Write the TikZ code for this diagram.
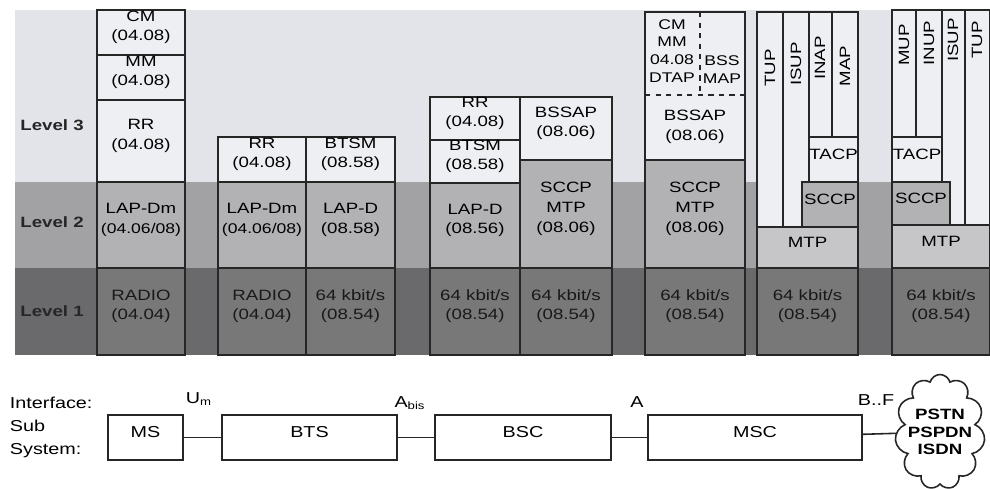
\documentclass[tikz,border=0pt]{standalone}
\usepackage{fontspec}
\setmainfont{Liberation Sans}[FakeStretch=1.25]
\usetikzlibrary{fit,shapes.symbols}

\definecolor{bandtop}{HTML}{E2E4EA}
\definecolor{bandmid}{HTML}{A2A2A4}
\definecolor{bandlow}{HTML}{6A6A6C}
\definecolor{boxtop}{HTML}{EEEFF3}
\definecolor{boxmid}{HTML}{B2B2B4}
\definecolor{boxlow}{HTML}{787879}
\definecolor{boxmtp}{HTML}{C6C6C8}

\begin{document}
\begin{tikzpicture}[x=0.02cm, y=-0.02cm,
	every node/.style={font=\fontsize{8.5}{11.3}\selectfont, align=center, inner sep=0pt, outer sep=0pt},
	lay/.style={draw=black!85, line width=0.9pt},
	l3/.style={lay, fill=boxtop},
	l2/.style={lay, fill=boxmid},
	l1/.style={lay, fill=boxlow, text=black!90},
	lmtp/.style={lay, fill=boxmtp},
	levtxt/.style={font=\fontsize{8.5}{11}\selectfont\bfseries, text=black!85},
	sub/.style={draw=black!85, line width=0.9pt, fill=white, font=\fontsize{9}{11}\selectfont},
	link/.style={draw=black!85, line width=0.9pt}]
	\useasboundingbox (0,0) rectangle (990,488);
	\fill[white] (0,0) rectangle (990,488);
	
	% level bands
	\fill[bandtop] (15,10) rectangle (990,182);
	\fill[bandmid] (15,182) rectangle (990,268);
	\fill[bandlow] (15,268) rectangle (990,355);
	\node[levtxt] (lev3) at (52,125) {Level 3};
	\node[levtxt] (lev2) at (52,222) {Level 2};
	\node[levtxt] (lev1) at (52,311) {Level 1};
	
	% MS
	\node[l3, fit={(97,10) (185,55)}] (mscm) {CM\\(04.08)};
	\node[l3, fit={(97,55) (185,100)}] (msmm) {MM\\(04.08)};
	\node[l3, fit={(97,100) (185,182)}] (msrr) {RR\\(04.08)};
	\node[l2, fit={(97,182) (185,268)}] (mslapdm) {LAP-Dm\\{\fontsize{8}{10}\selectfont(04.06/08)}};
	\node[l1, fit={(97,268) (185,355)}] (msradio) {RADIO\\(04.04)};
	
	% BTS
	\node[l3, fit={(218,137) (306,182)}] (btsrr) {RR\\(04.08)};
	\node[l3, fit={(306,137) (395,182)}] (btsbtsm) {BTSM\\(08.58)};
	\node[l2, fit={(218,182) (306,268)}] (btslapdm) {LAP-Dm\\{\fontsize{8}{10}\selectfont(04.06/08)}};
	\node[l2, fit={(306,182) (395,268)}] (btslapd) {LAP-D\\(08.58)};
	\node[l1, fit={(218,268) (306,355)}] (btsradio) {RADIO\\(04.04)};
	\node[l1, fit={(306,268) (395,355)}] (btskbit) {64 kbit/s\\(08.54)};
	
	% BSC
	\node[l3, fit={(430,97) (520,140)}] (bscrr) {RR\\(04.08)};
	\node[l3, fit={(430,140) (520,183)}] (bscbtsm) {BTSM\\(08.58)};
	\node[l2, fit={(430,183) (520,268)}] (bsclapd) {LAP-D\\(08.56)};
	\node[l1, fit={(430,268) (520,355)}] (bsckbita) {64 kbit/s\\(08.54)};
	\node[l3, fit={(520,97) (612,160)}] (bscbssap) {BSSAP\\(08.06)};
	\node[l2, fit={(520,160) (612,268)}] (bscsccp) {SCCP\\MTP\\(08.06)};
	\node[l1, fit={(520,268) (612,355)}] (bsckbitb) {64 kbit/s\\(08.54)};
	
	% MSC, BSS side
	\node[l3, fit={(645,12) (745,160)}] (mscupper) {};
	\draw[black!85, line width=0.8pt, dashed] (645,95) -- (745,95);
	\draw[black!85, line width=0.8pt, dashed] (700,12) -- (700,95);
	\node[font=\fontsize{8}{10.2}\selectfont] (mscdtap) at (672,51) {CM\\MM\\04.08\\DTAP};
	\node[font=\fontsize{8}{10.2}\selectfont] (mscbssmap) at (722,70) {BSS\\MAP};
	\node (mscbssap) at (695,127) {BSSAP\\(08.06)};
	\node[l2, fit={(645,160) (745,268)}] (mscsccp) {SCCP\\MTP\\(08.06)};
	\node[l1, fit={(645,268) (745,355)}] (msckbita) {64 kbit/s\\(08.54)};
	
	% MSC, network side
	\node[l3, fit={(757,12) (783,227)}] (msctup) {};
	\node[l3, fit={(783,12) (809,227)}] (mscisup) {};
	\node[l3, fit={(809,12) (832,137)}] (mscinap) {};
	\node[l3, fit={(832,12) (858,137)}] (mscmap) {};
	\node[rotate=90] (msctuptxt) at (770,68) {TUP};
	\node[rotate=90] (mscisuptxt) at (796,64) {ISUP};
	\node[rotate=90] (mscinaptxt) at (820,58) {INAP};
	\node[rotate=90] (mscmaptxt) at (845,66) {MAP};
	\node[l3, fit={(809,137) (858,182)}] (msctacp) {TACP};
	\node[l2, fit={(802,182) (858,227)}] (mscsccpb) {SCCP};
	\node[lmtp, fit={(757,227) (858,268)}] (mscmtp) {MTP};
	\node[l1, fit={(757,268) (858,355)}] (msckbitb) {64 kbit/s\\(08.54)};
	
	% fixed network
	\node[l3, fit={(892,10) (916,137)}] (netmup) {};
	\node[l3, fit={(916,10) (942,137)}] (netinup) {};
	\node[l3, fit={(942,10) (965,225)}] (netisup) {};
	\node[l3, fit={(965,10) (990,225)}] (nettup) {};
	\node[rotate=90] (netmuptxt) at (904,45) {MUP};
	\node[rotate=90] (netinuptxt) at (929,43) {INUP};
	\node[rotate=90] (netisuptxt) at (953,40) {ISUP};
	\node[rotate=90] (nettuptxt) at (977,40) {TUP};
	\node[l3, fit={(892,137) (942,182)}] (nettacp) {TACP};
	\node[l2, fit={(892,182) (950,225)}] (netsccp) {SCCP};
	\node[lmtp, fit={(892,225) (990,268)}] (netmtp) {MTP};
	\node[l1, fit={(892,268) (990,355)}] (netkbit) {64 kbit/s\\(08.54)};
	
	% sub systems
	\node[align=left, anchor=north west, font=\fontsize{9}{13}\selectfont] (ifsub) at (10,397) {Interface:\\Sub\\System:};
	\node[sub, fit={(108,415) (183,460)}] (subms) {MS};
	\node[sub, fit={(222,415) (397,460)}] (subbts) {BTS};
	\node[sub, fit={(435,415) (611,460)}] (subbsc) {BSC};
	\node[sub, fit={(648,415) (862,460)}] (submsc) {MSC};
	\node[cloud, draw=black!85, line width=0.9pt, fill=white, cloud puffs=11, aspect=0.78, minimum width=1.8cm, minimum height=2.3cm] (pstncloud) at (940,432) {};
	\node[font=\fontsize{8.5}{10}\selectfont\bfseries] (pstn) at (940,432) {PSTN\\PSPDN\\ISDN};
	
	\draw[link] (subms) -- (subbts);
	\draw[link] (subbts) -- (subbsc);
	\draw[link] (subbsc) -- (submsc);
	\draw[link] (submsc) -- (pstncloud);
	
	\node[font=\fontsize{9}{11}\selectfont] (ifum) at (199,399) {U\textsubscript{m}};
	\node[font=\fontsize{9}{11}\selectfont] (ifabis) at (410,403) {A\textsubscript{bis}};
	\node[font=\fontsize{9}{11}\selectfont] (ifa) at (637,402) {A};
	\node[font=\fontsize{9}{11}\selectfont] (ifbf) at (876,400) {B..F};
\end{tikzpicture}
\end{document}
